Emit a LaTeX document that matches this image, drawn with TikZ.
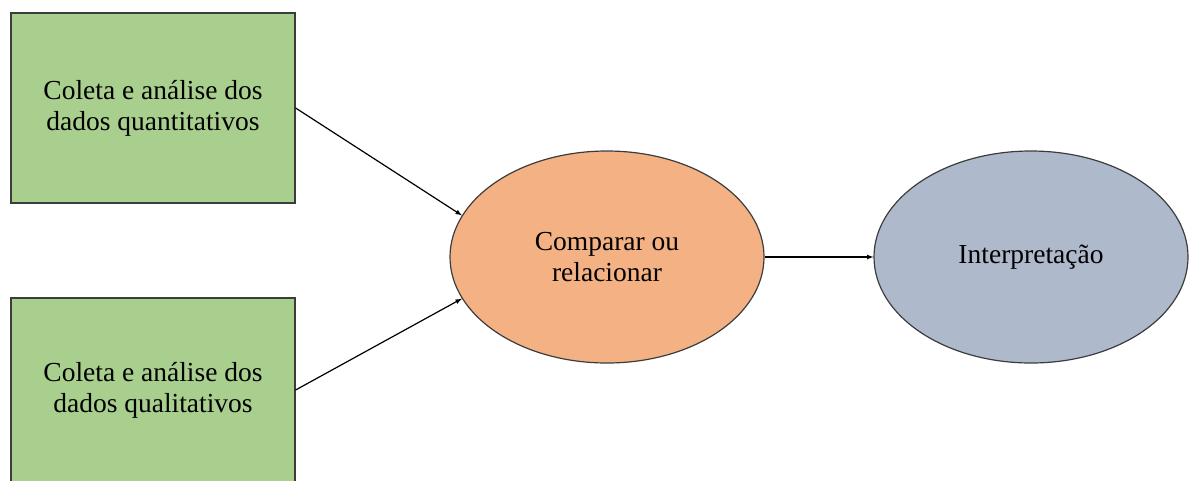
\documentclass[tikz,border=0pt]{standalone}
\usepackage{fontspec}
\setmainfont{Liberation Serif}
\usepackage{tikz}
\usetikzlibrary{
    arrows,
    shapes.geometric,
    positioning
}
\definecolor{boxgreen}{RGB}{169,207,142}
\definecolor{ellorange}{RGB}{244,178,132}
\definecolor{ellblue}{RGB}{174,186,204}
\definecolor{edgegray}{RGB}{60,60,60}
\tikzset{
    databox/.style={draw=edgegray, line width=1.2pt, fill=boxgreen, minimum width=284, minimum height=190, align=center, inner sep=0pt},
    stepell/.style={ellipse, draw=edgegray, line width=1.2pt, minimum width=314, minimum height=212, align=center, inner sep=0pt},
    flow/.style={-latex, line width=1.2pt}
}

\begin{document}
\begin{tikzpicture}[x=1pt, y=-1pt, font=\fontsize{27.5}{31}\selectfont]
                        \useasboundingbox (0, 0) rectangle (1190, 480);
                        \node[databox] (quant) at (153, 108) {Coleta e análise dos\\dados quantitativos};
                        \node[databox, minimum height=184] (qual) at (153, 390) {Coleta e análise dos\\dados qualitativos};
                        \node[stepell, fill=ellorange] (comp) at (607, 257) {Comparar ou\\relacionar};
                        \node[stepell, fill=ellblue] (interp) at (1031, 257) {Interpretação};
                        \draw[flow] (quant.east) -- (comp.164);
                        \draw[flow] (qual.east) -- (comp.196);
                        \draw[flow] (comp) -- (interp);
                    \end{tikzpicture}
\end{document}
